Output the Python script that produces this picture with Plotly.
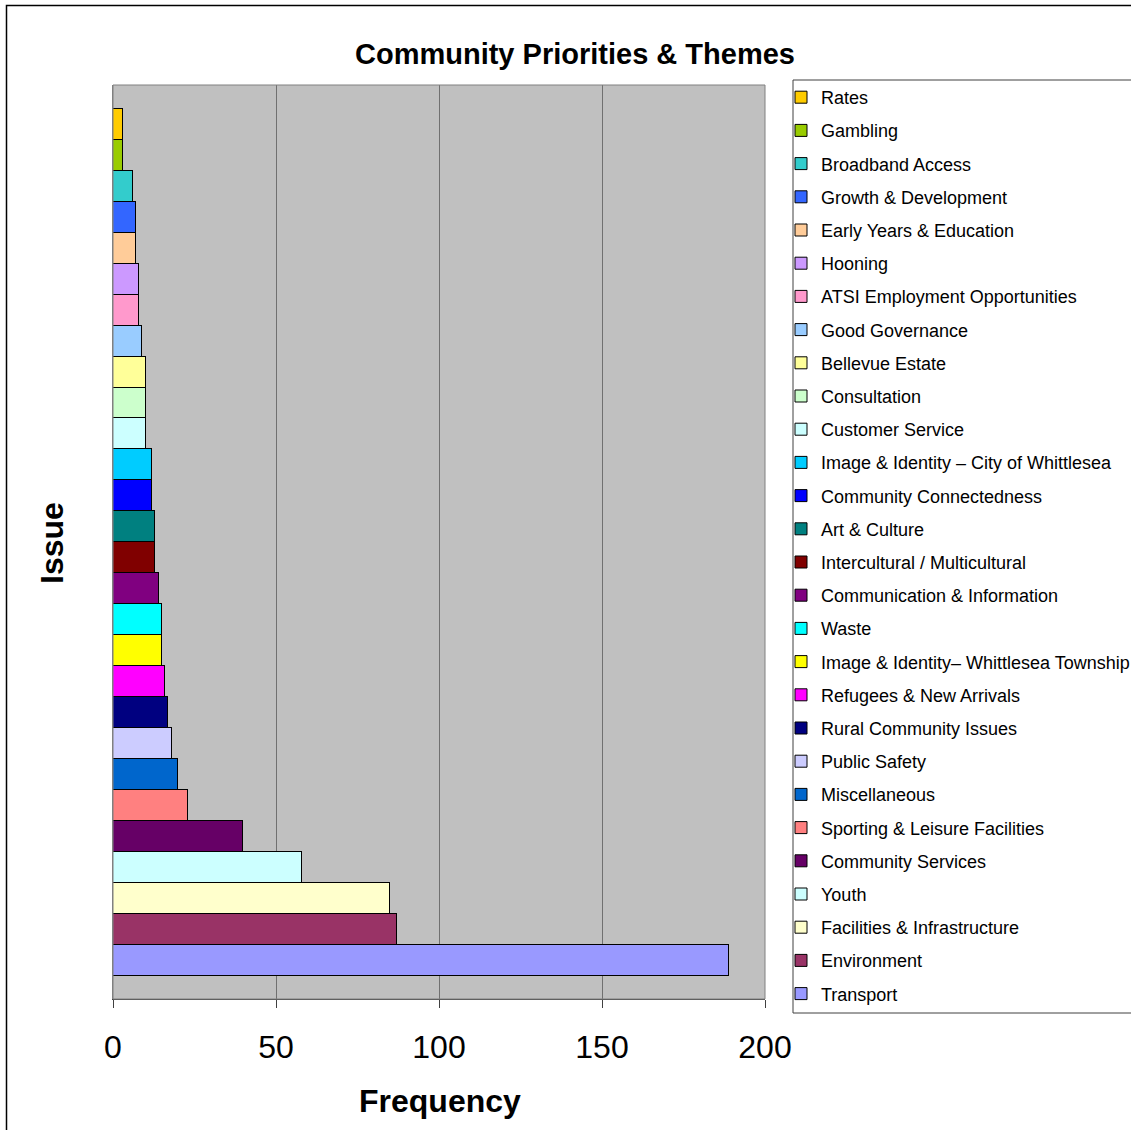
import plotly.graph_objects as go

# Issues listed top to bottom as they appear in the legend
issues = [
    "Rates", "Gambling", "Broadband Access", "Growth & Development",
    "Early Years & Education", "Hooning", "ATSI Employment Opportunities",
    "Good Governance", "Bellevue Estate", "Consultation", "Customer Service",
    "Image & Identity \u2013 City of Whittlesea", "Community Connectedness",
    "Art & Culture", "Intercultural / Multicultural",
    "Communication & Information", "Waste",
    "Image & Identity\u2013 Whittlesea Township", "Refugees & New Arrivals",
    "Rural Community Issues", "Public Safety", "Miscellaneous",
    "Sporting & Leisure Facilities", "Community Services", "Youth",
    "Facilities & Infrastructure", "Environment", "Transport",
]
frequency = [3, 3, 6, 7, 7, 8, 8, 9, 10, 10, 10, 12, 12, 13, 13, 14, 15, 15,
             16, 17, 18, 20, 23, 40, 58, 85, 87, 189]
colors = [
    "#FFCC00", "#99CC00", "#33CCCC", "#3366FF", "#FFCC99", "#CC99FF",
    "#FF99CC", "#99CCFF", "#FFFF99", "#CCFFCC", "#CCFFFF", "#00CCFF",
    "#0000FF", "#008080", "#800000", "#800080", "#00FFFF", "#FFFF00",
    "#FF00FF", "#000080", "#CCCCFF", "#0066CC", "#FF8080", "#660066",
    "#CCFFFF", "#FFFFCC", "#993366", "#9999FF",
]
x_ticks = [0, 50, 100, 150, 200]

FONT = "Arial, Liberation Sans, sans-serif"
W, H = 1131, 1130
L, R, T, B = 113, 366, 85, 131
PW, PH = W - L - R, H - T - B


def px_x(p):
    return (p - L) / PW


def px_y(p):
    return (H - B - p) / PH


fig = go.Figure()
for name, val, col in zip(issues, frequency, colors):
    fig.add_trace(go.Bar(
        x=[val], y=[name], orientation="h", name=name, legendgroup=name,
        marker=dict(color=col, line=dict(color="black", width=1)),
        hoverinfo="x+y",
    ))

fig.update_layout(
    width=W, height=H,
    margin=dict(l=L, r=R, t=T, b=B, autoexpand=False),
    paper_bgcolor="white", plot_bgcolor="#C0C0C0",
    barmode="stack", bargap=0,
    font=dict(family=FONT, color="black"),
    showlegend=True,
    legend=dict(
        x=px_x(781), xanchor="left", y=px_y(79), yanchor="top",
        traceorder="grouped", tracegroupgap=6.8,
        font=dict(size=18, family=FONT), bgcolor="rgba(0,0,0,0)",
        borderwidth=0, itemwidth=30, maxheight=1.0,
    ),
    xaxis=dict(
        range=[0, 200], tickvals=x_ticks, ticktext=[str(t) for t in x_ticks],
        showgrid=True, gridcolor="#707070", gridwidth=1,
        showline=True, linecolor="#404040", linewidth=1,
        ticks="outside", ticklen=8, tickcolor="#404040",
        tickfont=dict(size=32, family=FONT), zeroline=False,
        ticklabelstandoff=12, fixedrange=True,
    ),
    yaxis=dict(
        categoryorder="array", categoryarray=issues[::-1],
        range=[-1.24, len(issues) - 1 + 1.265],
        showticklabels=False, ticks="", showgrid=False,
        showline=True, linecolor="#808080", linewidth=1, zeroline=False,
        fixedrange=True,
    ),
)

# plot frame, legend box and outer chart border
fig.add_shape(type="rect", xref="paper", yref="paper", x0=0, x1=1, y0=0, y1=1,
              line=dict(color="#808080", width=1), layer="above")
fig.add_shape(type="rect", xref="paper", yref="paper",
              x0=px_x(793), x1=px_x(1200), y0=px_y(1013), y1=px_y(80),
              line=dict(color="#404040", width=1))
fig.add_shape(type="rect", xref="paper", yref="paper",
              x0=px_x(6.5), x1=px_x(1200), y0=px_y(1200), y1=px_y(5.5),
              line=dict(color="black", width=1.5))

fig.add_annotation(text="<b>Community Priorities & Themes</b>",
                   xref="paper", yref="paper", x=px_x(575), y=px_y(54),
                   xanchor="center", yanchor="middle",
                   showarrow=False, font=dict(size=29, family=FONT))
fig.add_annotation(text="<b>Frequency</b>", xref="paper", yref="paper",
                   x=px_x(440), y=px_y(1101), xanchor="center",
                   yanchor="middle", showarrow=False,
                   font=dict(size=32, family=FONT))
fig.add_annotation(text="<b>Issue</b>", xref="paper", yref="paper",
                   x=px_x(52), y=px_y(543), xanchor="center",
                   yanchor="middle", showarrow=False, textangle=-90,
                   font=dict(size=32, family=FONT))

fig.write_html("out.html")
